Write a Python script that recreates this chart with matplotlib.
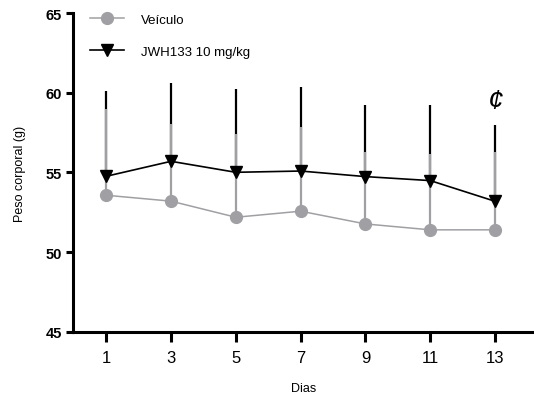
import numpy as np
import matplotlib
matplotlib.use("Agg")
import matplotlib.pyplot as plt

plt.rcParams['font.family'] = ['Liberation Sans', 'DejaVu Sans']

dias = [1, 3, 5, 7, 9, 11, 13]
veiculo = [53.57, 53.2, 52.19, 52.57, 51.77, 51.4, 51.4]
veiculo_top = [59.0, 58.04, 57.41, 57.87, 56.29, 56.16, 56.29]
jwh = [54.76, 55.7, 55.01, 55.09, 54.74, 54.49, 53.19]
jwh_top = [60.09, 60.61, 60.22, 60.36, 59.21, 59.23, 57.96]

gray = '#a0a0a4'

fig = plt.figure(figsize=(5.34, 4.02), dpi=100)
ax = fig.add_axes([0.137, 0.172, 0.863, 0.793])

veic_err = np.array(veiculo_top) - np.array(veiculo)
jwh_err = np.array(jwh_top) - np.array(jwh)

# upper error bars only (black first, gray on top)
ax.errorbar(dias, jwh, yerr=[np.zeros(len(dias)), jwh_err], fmt='none',
            ecolor='black', elinewidth=1.6, capsize=0, zorder=2)
ax.errorbar(dias, veiculo, yerr=[np.zeros(len(dias)), veic_err], fmt='none',
            ecolor=gray, elinewidth=1.6, capsize=0, zorder=3)

ax.plot(dias, veiculo, color=gray, lw=1.1, marker='o', ms=8.5,
        mfc=gray, mec=gray, label='Veículo', zorder=4)
ax.plot(dias, jwh, color='black', lw=1.2, marker='v', ms=9,
        mfc='black', mec='black', label='JWH133 10 mg/kg', zorder=5)

ax.text(13, 59.5, '¢', fontsize=20, style='italic', ha='center', va='center')

ax.set_xlim(-0.02, 14.2)
ax.set_ylim(45, 65)
ax.set_xticks(dias)
ax.set_yticks([45, 50, 55, 60, 65])

for s in ['top', 'right']:
    ax.spines[s].set_visible(False)
for s in ['left', 'bottom']:
    ax.spines[s].set_linewidth(2.2)

ax.tick_params(axis='y', length=5, width=2.2, labelsize=10.5, pad=3)
ax.tick_params(axis='x', length=7, width=2.2, labelsize=12, pad=6)
for lab in ax.get_yticklabels():
    lab.set_fontweight('bold')

ax.set_xlabel('Dias', fontsize=9, labelpad=12)
ax.set_ylabel('Peso corporal (g)', fontsize=9, labelpad=14)

ax.legend(loc='upper left', bbox_to_anchor=(0.01, 1.035), frameon=False,
          fontsize=9.5, handlelength=2.6, labelspacing=1.5, handletextpad=1.3)

fig.savefig('out.png', dpi=100)
